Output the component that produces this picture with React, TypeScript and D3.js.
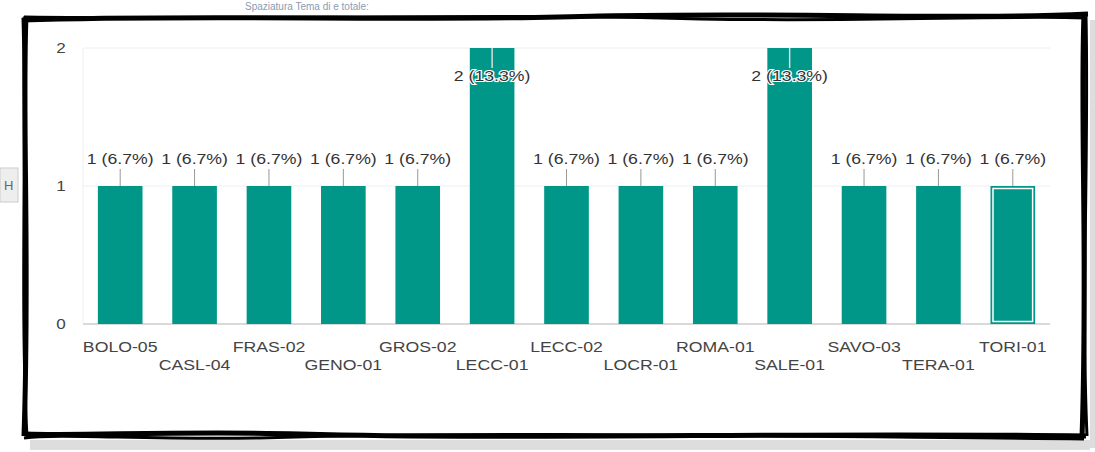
import React from "react";
import * as d3 from "d3";

const categories = [
  "BOLO-05", "CASL-04", "FRAS-02", "GENO-01", "GROS-02", "LECC-01", "LECC-02",
  "LOCR-01", "ROMA-01", "SALE-01", "SAVO-03", "TERA-01", "TORI-01",
];
const values = [1, 1, 1, 1, 1, 2, 1, 1, 1, 2, 1, 1, 1];
const yTicks = [0, 1, 2];
const highlighted = "TORI-01";

const W = 1095;
const H = 452;
const M = { left: 83, right: 1050, top: 48, bottom: 324 };
const FILL = "#009688";
const FONT = "'Liberation Sans', Arial, sans-serif";
const SX = 1.22;

function SText(props: {
  x: number;
  y: number;
  children: React.ReactNode;
  size?: number;
  fill?: string;
  halo?: boolean;
}) {
  const { x, y, children, size = 14.5, fill = "#333", halo } = props;
  return (
    <text
      transform={`translate(${x},${y}) scale(${SX},1)`}
      dy="0.35em"
      textAnchor="middle"
      fontFamily={FONT}
      fontSize={size}
      fill={fill}
      stroke={halo ? "#fff" : "none"}
      strokeWidth={halo ? 2.2 : 0}
      paintOrder="stroke"
    >
      {children}
    </text>
  );
}

export default function App() {
  const total = d3.sum(values);
  const x = d3
    .scaleBand<string>()
    .domain(categories)
    .range([M.left, M.right])
    .paddingInner(0.4)
    .paddingOuter(0.2);
  const y = d3.scaleLinear().domain([0, 2]).range([M.bottom, M.top]);

  const fmt = (v: number) => `${v} (${d3.format(".1f")((v / total) * 100)}%)`;

  const frame = [
    "M22,20 C200,14 420,22 600,16 C800,12 950,20 1088,14",
    "M24,17 C260,20 500,13 700,19 C880,22 1000,15 1086,18",
    "M1084,14 C1080,120 1088,260 1082,438",
    "M1086,16 C1089,150 1081,300 1087,436",
    "M1086,436 C800,432 520,440 300,434 C180,431 80,436 26,434",
    "M1084,439 C760,436 480,431 260,438 C140,440 60,433 24,438",
    "M26,16 C22,120 30,260 24,436",
    "M23,18 C27,150 20,300 27,438",
  ];

  return (
    <svg width={W} height={H} style={{ position: "absolute", left: 0, top: 0, background: "#fff" }}>
      <rect x={0} y={168} width={18} height={34} fill="#eee" stroke="#ccc" />
      <text x={4} y={190} fontFamily={FONT} fontSize={13} fill="#666">H</text>
      <text x={245} y={10} fontFamily={FONT} fontSize={10} fill="#8a9bb5">Spaziatura Tema di e totale:</text>
      <rect x={30} y={440} width={1060} height={10} fill="#bbb" opacity={0.5} />
      <rect x={1090} y={20} width={5} height={428} fill="#bbb" opacity={0.5} />

      <rect x={26} y={18} width={1058} height={418} fill="#fff" />
      {frame.map((d, i) => (
        <path key={i} d={d} fill="none" stroke="#000" strokeWidth={i % 2 ? 3 : 5} />
      ))}

      {yTicks.map((t) => (
        <g key={t}>
          <line
            x1={M.left}
            x2={M.right}
            y1={y(t)}
            y2={y(t)}
            stroke={t === 0 ? "#ccc" : "#eee"}
            strokeWidth={t === 0 ? 1.5 : 1}
          />
          <SText x={61} y={y(t)} size={14} fill="#444">
            {t}
          </SText>
        </g>
      ))}
      <line x1={M.left} x2={M.left} y1={M.top} y2={M.bottom} stroke="#eee" />

      {categories.map((c, i) => {
        const v = values[i];
        const bx = x(c)!;
        const bw = x.bandwidth();
        const by = y(v);
        const bh = y(0) - by;
        const cx = bx + bw / 2;
        const inside = v === 2;
        return (
          <g key={c}>
            <rect x={bx} y={by} width={bw} height={bh} fill={FILL} />
            {c === highlighted && (
              <rect
                x={bx + 2.5}
                y={by + 2.5}
                width={bw - 5}
                height={bh - 5}
                fill="none"
                stroke="#fff"
                strokeWidth={1.5}
              />
            )}
            {inside ? (
              <>
                <line x1={cx} x2={cx} y1={by} y2={by + 20} stroke="#ddd" strokeWidth={1.5} />
                <SText x={cx} y={by + 28} halo>
                  {fmt(v)}
                </SText>
              </>
            ) : (
              <>
                <line x1={cx} x2={cx} y1={by - 17} y2={by} stroke="#999" strokeWidth={1} />
                <SText x={cx} y={by - 27}>
                  {fmt(v)}
                </SText>
              </>
            )}
            <SText x={cx} y={i % 2 === 0 ? 347 : 365} fill="#444">
              {c}
            </SText>
          </g>
        );
      })}
    </svg>
  );
}
